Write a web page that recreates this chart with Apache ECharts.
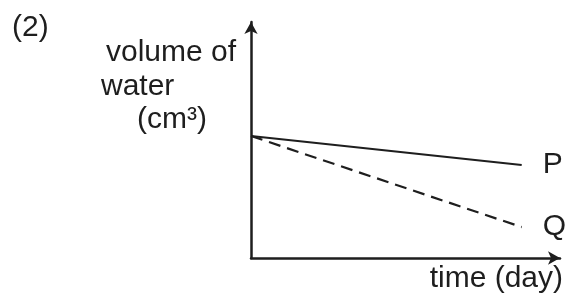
<!DOCTYPE html>
<html lang="en">
<head>
    <meta charset="UTF-8">
    <title>volume of water</title>
    <script src="https://cdn.jsdelivr.net/npm/echarts@6/dist/echarts.min.js"></script>
</head>
<body style="margin:0">
<div style="width: 566px; height: 295px" id="chart"></div>

<script type="text/javascript">
    // values (axes have no scale, so 0-100 on both)
    var days = [0, 87.6];
    var volumeP = [51.7, 39.4];
    var volumeQ = [51.7, 13.1];
    var seriesNames = ['P', 'Q'];

    var ink = '#1e1e1e';
    var font = '"Liberation Sans", Arial, sans-serif';

    function pairs(ys) {
        return days.map(function (d, i) {
            return [d, ys[i]];
        });
    }

    var myChart = echarts.init(document.getElementById('chart'));

    var option = {
        animation: false,
        grid: {left: 251, top: 22, right: 6, bottom: 37},
        xAxis: {
            type: 'value',
            min: 0,
            max: 100,
            name: 'time (day)',
            nameLocation: 'end',
            nameGap: 3,
            nameTextStyle: {
                color: ink, fontSize: 30, fontFamily: font,
                align: 'right', verticalAlign: 'top', padding: [6, 0, 0, 0]
            },
            axisLine: {
                lineStyle: {color: ink, width: 2.5},
                symbol: ['none', 'arrow'],
                symbolSize: [10, 12]
            },
            axisTick: {show: false},
            axisLabel: {show: false},
            splitLine: {show: false}
        },
        yAxis: {
            type: 'value',
            min: 0,
            max: 100,
            axisLine: {
                show: true,
                lineStyle: {color: ink, width: 2.5},
                symbol: ['none', 'arrow'],
                symbolSize: [10, 12]
            },
            axisTick: {show: false},
            axisLabel: {show: false},
            splitLine: {show: false}
        },
        graphic: [
            {type: 'text', left: 12, top: 13, style: {text: '(2)', font: '30px ' + font, fill: ink}},
            {type: 'text', left: 106, top: 38, style: {text: 'volume of', font: '30px ' + font, fill: ink}},
            {type: 'text', left: 101, top: 72, style: {text: 'water', font: '30px ' + font, fill: ink}},
            {type: 'text', left: 137, top: 105, style: {text: '(cm³)', font: '30px ' + font, fill: ink}}
        ],
        series: [
            {
                name: seriesNames[0],
                type: 'line',
                data: pairs(volumeP),
                symbol: 'none',
                lineStyle: {color: ink, width: 2.2},
                endLabel: {
                    show: true, formatter: seriesNames[0], distance: 21,
                    color: ink, fontSize: 30, fontFamily: font
                }
            },
            {
                name: seriesNames[1],
                type: 'line',
                data: pairs(volumeQ),
                symbol: 'none',
                lineStyle: {color: ink, width: 2.2, type: [12, 7]},
                endLabel: {
                    show: true, formatter: seriesNames[1], distance: 21,
                    color: ink, fontSize: 30, fontFamily: font
                }
            }
        ]
    };

    myChart.setOption(option);
</script>
</body>
</html>
